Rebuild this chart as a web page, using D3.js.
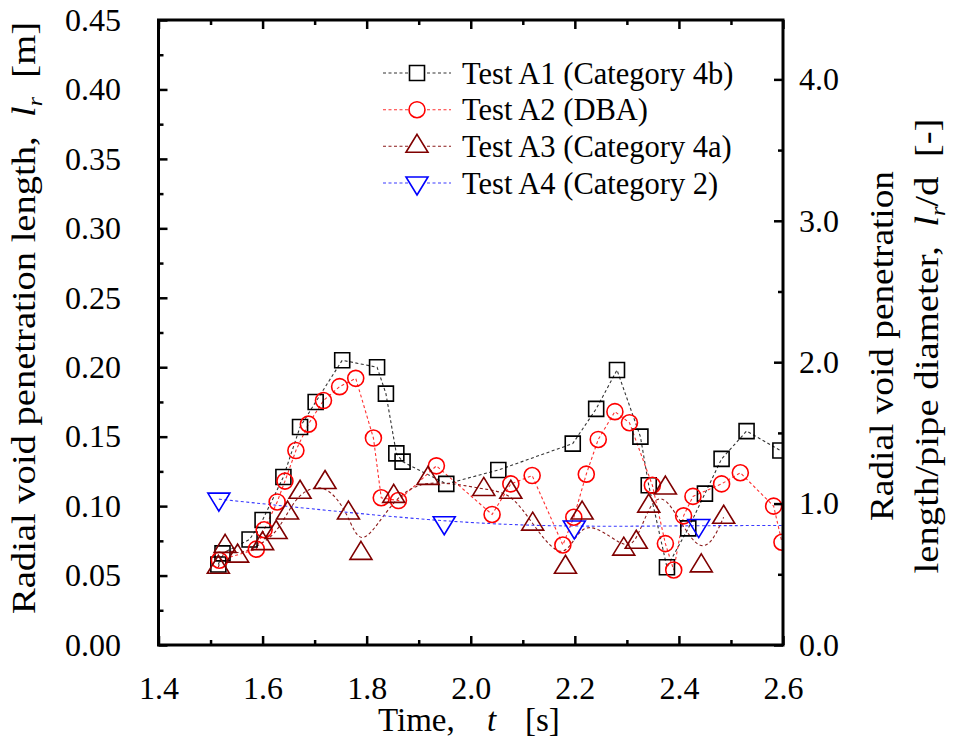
<!DOCTYPE html>
<html>
<head>
<meta charset="utf-8">
<script src="https://cdn.jsdelivr.net/npm/d3@7"></script>
<style>
  html, body { margin: 0; padding: 0; background: #fff; }
</style>
</head>
<body>
<svg id="chart" width="961" height="746"></svg>
<script>
// Test A1 (Category 4b)
const a1Time = [1.515, 1.523, 1.575, 1.600, 1.640, 1.672, 1.702, 1.753, 1.820, 1.837, 1.857, 1.869, 1.953, 2.053, 2.196, 2.241, 2.281, 2.326, 2.342, 2.377, 2.418, 2.450, 2.482, 2.530, 2.595];
const a1Len  = [0.058, 0.066, 0.076, 0.090, 0.121, 0.157, 0.175, 0.205, 0.200, 0.181, 0.138, 0.132, 0.116, 0.126, 0.145, 0.170, 0.198, 0.150, 0.115, 0.056, 0.084, 0.109, 0.134, 0.154, 0.140];

// Test A2 (DBA)
const a2Time = [1.517, 1.588, 1.603, 1.628, 1.643, 1.664, 1.688, 1.717, 1.748, 1.779, 1.813, 1.828, 1.861, 1.934, 2.041, 2.077, 2.118, 2.177, 2.198, 2.222, 2.245, 2.277, 2.305, 2.349, 2.374, 2.390, 2.409, 2.427, 2.482, 2.518, 2.582, 2.598];
const a2Len  = [0.061, 0.069, 0.083, 0.103, 0.118, 0.140, 0.159, 0.176, 0.186, 0.192, 0.149, 0.106, 0.104, 0.129, 0.094, 0.116, 0.122, 0.072, 0.092, 0.123, 0.148, 0.168, 0.160, 0.115, 0.073, 0.054, 0.093, 0.107, 0.116, 0.124, 0.100, 0.074];

// Test A3 (Category 4a)
const a3Time = [1.515, 1.528, 1.552, 1.600, 1.626, 1.648, 1.672, 1.720, 1.765, 1.789, 1.852, 1.918, 2.025, 2.077, 2.119, 2.182, 2.214, 2.294, 2.318, 2.342, 2.374, 2.443, 2.486];
const a3Len  = [0.056, 0.071, 0.064, 0.073, 0.081, 0.095, 0.110, 0.117, 0.095, 0.066, 0.107, 0.120, 0.112, 0.110, 0.087, 0.056, 0.095, 0.069, 0.074, 0.100, 0.113, 0.057, 0.092];

// Test A4 (Category 2); its smoothed line runs on to the right-hand edge
const a4Time = [1.516, 1.949, 2.199, 2.438];
const a4Len  = [0.105, 0.088, 0.085, 0.086];
const a4LineEnd = [2.6, 0.086];

const legendLabels = ["Test A1 (Category 4b)", "Test A2 (DBA)", "Test A3 (Category 4a)", "Test A4 (Category 2)"];

const xTicksMajor = [1.4, 1.6, 1.8, 2.0, 2.2, 2.4, 2.6];
const xTicksMinor = [1.5, 1.7, 1.9, 2.1, 2.3, 2.5];
const yTicksMajor = [0, 0.05, 0.10, 0.15, 0.20, 0.25, 0.30, 0.35, 0.40, 0.45];
const yTicksMinor = [0.025, 0.075, 0.125, 0.175, 0.225, 0.275, 0.325, 0.375, 0.425];
const rTicksMajor = [0, 1, 2, 3, 4];
const rTicksMinor = [0.5, 1.5, 2.5, 3.5];

// ---- layout ----
const plot = { left: 158.5, right: 783, top: 20, bottom: 645 };
const FONT = "'Liberation Serif'";

const svg = d3.select("#chart");

const x = d3.scaleLinear().domain([1.4, 2.6]).range([plot.left, plot.right]);
const y = d3.scaleLinear().domain([0, 0.45]).range([plot.bottom, plot.top]);
const yR = d3.scaleLinear().domain([0, 4.42]).range([plot.bottom, plot.top]);

const fontTick = 32;

// apply the serif face directly on a text element
function serif(sel) {
  return sel.style("font-family", FONT).attr("fill", "#000");
}

// ---- custom marker shapes ----
const triUp = {
  draw(ctx) {
    const w = 11, h = 18;
    ctx.moveTo(0, -h * 2 / 3);
    ctx.lineTo(w, h / 3);
    ctx.lineTo(-w, h / 3);
    ctx.closePath();
  }
};
const triDown = {
  draw(ctx) {
    const w = 11, h = 18;
    ctx.moveTo(0, h * 2 / 3);
    ctx.lineTo(w, -h / 3);
    ctx.lineTo(-w, -h / 3);
    ctx.closePath();
  }
};

const series = [
  { time: a1Time, len: a1Len, marker: d3.symbol(d3.symbolSquare, 225), stroke: "#000000", line: "#333333", curve: d3.curveLinear },
  { time: a2Time, len: a2Len, marker: d3.symbol(d3.symbolCircle, Math.PI * 64), stroke: "#ff0000", line: "#ff3030", curve: d3.curveLinear },
  { time: a3Time, len: a3Len, marker: d3.symbol(triUp), stroke: "#7f0000", line: "#8b1a1a", curve: d3.curveBasis },
  { time: a4Time, len: a4Len, marker: d3.symbol(triDown), stroke: "#0000ff", line: "#3a3aff", curve: d3.curveBasis, extra: a4LineEnd }
];

// ---- clip region for the data ----
svg.append("defs").append("clipPath").attr("id", "plotClip")
  .append("rect")
  .attr("x", plot.left).attr("y", plot.top)
  .attr("width", plot.right - plot.left).attr("height", plot.bottom - plot.top);

const dataG = svg.append("g").attr("clip-path", "url(#plotClip)");

// connecting lines
series.forEach(s => {
  const pts = s.time.map((t, i) => [t, s.len[i]]);
  if (s.extra) pts.push(s.extra);
  dataG.append("path")
    .datum(pts)
    .attr("fill", "none")
    .attr("stroke", s.line)
    .attr("stroke-width", 1.1)
    .attr("stroke-dasharray", "3,2.5")
    .attr("d", d3.line().x(d => x(d[0])).y(d => y(d[1])).curve(s.curve));
});

// markers
series.forEach(s => {
  dataG.append("g")
    .selectAll("path")
    .data(s.time.map((t, i) => [t, s.len[i]]))
    .join("path")
    .attr("transform", d => `translate(${x(d[0])},${y(d[1])})`)
    .attr("d", s.marker)
    .attr("fill", "none")
    .attr("stroke", s.stroke)
    .attr("stroke-width", 1.6);
});

// ---- axes (ticks point inward) ----
function styleAxis(g) {
  g.attr("font-family", null).attr("font-size", null);
  g.select(".domain").remove();
  g.selectAll(".tick line").attr("stroke", "#000").attr("stroke-width", 2.5);
  g.selectAll(".tick text").call(serif).style("font-size", fontTick + "px");
}

// bottom
svg.append("g").attr("transform", `translate(0,${plot.bottom})`)
  .call(d3.axisBottom(x).tickValues(xTicksMajor).tickSize(-9).tickPadding(31).tickFormat(d3.format(".1f")))
  .call(styleAxis);
svg.append("g").attr("transform", `translate(0,${plot.bottom})`)
  .call(d3.axisBottom(x).tickValues(xTicksMinor).tickSize(-5).tickFormat(""))
  .call(styleAxis);

// top
svg.append("g").attr("transform", `translate(0,${plot.top})`)
  .call(d3.axisTop(x).tickValues(xTicksMajor).tickSize(-9).tickFormat(""))
  .call(styleAxis);
svg.append("g").attr("transform", `translate(0,${plot.top})`)
  .call(d3.axisTop(x).tickValues(xTicksMinor).tickSize(-5).tickFormat(""))
  .call(styleAxis);

// left
svg.append("g").attr("transform", `translate(${plot.left},0)`)
  .call(d3.axisLeft(y).tickValues(yTicksMajor).tickSize(-9).tickPadding(37.5).tickFormat(d3.format(".2f")))
  .call(styleAxis);
svg.append("g").attr("transform", `translate(${plot.left},0)`)
  .call(d3.axisLeft(y).tickValues(yTicksMinor).tickSize(-5).tickFormat(""))
  .call(styleAxis);

// right
svg.append("g").attr("transform", `translate(${plot.right},0)`)
  .call(d3.axisRight(yR).tickValues(rTicksMajor).tickSize(-9).tickPadding(16).tickFormat(d3.format(".1f")))
  .call(styleAxis);
svg.append("g").attr("transform", `translate(${plot.right},0)`)
  .call(d3.axisRight(yR).tickValues(rTicksMinor).tickSize(-5).tickFormat(""))
  .call(styleAxis);

// frame
svg.append("rect")
  .attr("x", plot.left).attr("y", plot.top)
  .attr("width", plot.right - plot.left).attr("height", plot.bottom - plot.top)
  .attr("fill", "none").attr("stroke", "#000").attr("stroke-width", 3);

// ---- axis titles ----
const fontTitle = 33;

const xt = svg.append("text")
  .attr("y", 731)
  .call(serif)
  .style("font-size", fontTitle + "px");
xt.append("tspan").attr("x", 378).text("Time,");
xt.append("tspan").attr("x", 487).style("font-style", "italic").text("t");
xt.append("tspan").attr("x", 525).text("[s]");

// rotated title with italic l and subscript r
function rotatedTitle(cx, cy, before, after, length) {
  const t = svg.append("text")
    .attr("transform", `translate(${cx},${cy}) rotate(-90)`)
    .attr("text-anchor", "middle")
    .call(serif)
    .style("font-size", fontTitle + "px")
    .style("white-space", "pre")
    .attr("textLength", length)
    .attr("lengthAdjust", "spacingAndGlyphs");
  t.append("tspan").text(before);
  t.append("tspan").style("font-style", "italic").text("l");
  t.append("tspan").style("font-size", (fontTitle * 0.62) + "px").style("font-style", "italic").attr("dy", 7).text("r");
  t.append("tspan").attr("dy", -7).text(after);
  return t;
}

rotatedTitle(35, 318, "Radial void penetration length,  ", "  [m]", 592);

svg.append("text")
  .attr("transform", "translate(893,346) rotate(-90)")
  .attr("text-anchor", "middle")
  .call(serif)
  .style("font-size", fontTitle + "px")
  .attr("textLength", 350)
  .attr("lengthAdjust", "spacingAndGlyphs")
  .text("Radial void penetration");

rotatedTitle(938, 346, "length/pipe diameter,  ", "/d  [-]", 455);

// ---- legend ----
const legend = svg.append("g");
const rowY = [73, 109.7, 146.3, 183];
series.forEach((s, i) => {
  const row = legend.append("g").attr("transform", `translate(0,${rowY[i]})`);
  row.append("line")
    .attr("x1", 383).attr("x2", 451).attr("y1", 0).attr("y2", 0)
    .attr("stroke", s.line).attr("stroke-width", 1.1).attr("stroke-dasharray", "3,2.5");
  row.append("path")
    .attr("transform", "translate(417,0)")
    .attr("d", s.marker)
    .attr("fill", "#fff")
    .attr("stroke", s.stroke)
    .attr("stroke-width", 1.6);
  row.append("text")
    .attr("x", 462).attr("y", 0).attr("dy", "0.35em")
    .call(serif)
    .style("font-size", "30.5px")
    .text(legendLabels[i]);
});
</script>
</body>
</html>
